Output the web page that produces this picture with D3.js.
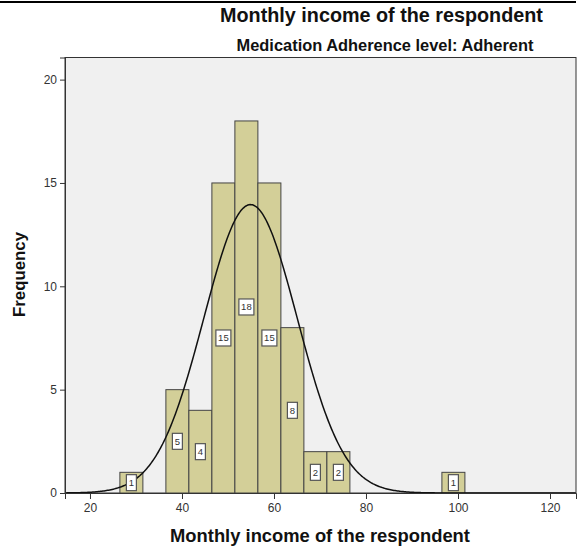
<!DOCTYPE html>
<html><head><meta charset="utf-8">
<script src="https://cdn.jsdelivr.net/npm/d3@7"></script>
<style>body{margin:0;background:#fff}svg{display:block}text{font-family:"Liberation Sans",Arial,sans-serif}</style>
</head><body>
<svg id="c" width="586" height="546"></svg>
<script>
const binStarts = [26.5, 36.5, 41.5, 46.5, 51.5, 56.5, 61.5, 66.5, 71.5, 96.5];
const binWidth = 5;
const counts = [1, 5, 4, 15, 18, 15, 8, 2, 2, 1];
const xTicks = [20, 40, 60, 80, 100, 120];
const yTicks = [0, 5, 10, 15, 20];
const fitMean = 54.9, fitSd = 10.15;
const title = "Monthly income of the respondent";
const subtitle = "Medication Adherence level: Adherent";
const xLabel = "Monthly income of the respondent";
const yLabel = "Frequency";

const svg = d3.select("#c");
const L = 65, R = 576, T = 57.5, B = 493;
const x = d3.scaleLinear().domain([14.57, 125.65]).range([L, R]);
const y = d3.scaleLinear().domain([0, 21.07]).range([B, T]);
const boldFont = "DejaVu Sans, Verdana, sans-serif";

function fitText(sel, target) {
  let fs = +sel.attr("font-size");
  const w = sel.node().getComputedTextLength();
  if (w > 0) sel.attr("font-size", (fs * target / w).toFixed(2));
}

svg.append("line").attr("x1", 0).attr("x2", 576).attr("y1", 2).attr("y2", 2).attr("stroke", "#000").attr("stroke-width", 2);

const t1 = svg.append("text").attr("x", 381.5).attr("y", 21.5).attr("text-anchor", "middle")
  .attr("font-family", boldFont).attr("font-size", 16).attr("font-weight", "bold").attr("fill", "#111").text(title);
fitText(t1, 323);
const t2 = svg.append("text").attr("x", 385).attr("y", 50.5).attr("text-anchor", "middle")
  .attr("font-family", boldFont).attr("font-size", 13).attr("font-weight", "bold").attr("fill", "#111").text(subtitle);
fitText(t2, 297);

svg.append("rect").attr("x", L).attr("y", T).attr("width", R - L).attr("height", B - T)
  .attr("fill", "#f0f0f0").attr("stroke", "#333").attr("stroke-width", 1);

const data = counts.map((c, i) => ({x0: binStarts[i], x1: binStarts[i] + binWidth, c}));

svg.append("g").selectAll("rect").data(data).join("rect")
  .attr("x", d => x(d.x0)).attr("y", d => y(d.c))
  .attr("width", d => x(d.x1) - x(d.x0)).attr("height", d => y(0) - y(d.c))
  .attr("fill", "#d3cf98").attr("stroke", "#444").attr("stroke-width", 1);

// normal curve
const N = d3.sum(counts);
const pts = d3.range(14.57, 125.65, 0.25).map(v => [v, N * binWidth / (fitSd * Math.sqrt(2 * Math.PI)) * Math.exp(-0.5 * ((v - fitMean) / fitSd) ** 2)]);
svg.append("defs").append("clipPath").attr("id", "cp").append("rect").attr("x", L).attr("y", T).attr("width", R - L).attr("height", B - T);
svg.append("path").attr("clip-path", "url(#cp)").datum(pts)
  .attr("d", d3.line().x(d => x(d[0])).y(d => y(d[1])))
  .attr("fill", "none").attr("stroke", "#111").attr("stroke-width", 1.5);

// value labels
const lg = svg.append("g").selectAll("g").data(data).join("g")
  .attr("transform", d => `translate(${x(d.x0 + binWidth / 2)},${y(d.c / 2)})`);
lg.append("rect").attr("x", d => d.c >= 10 ? -7.5 : -5).attr("y", -8)
  .attr("width", d => d.c >= 10 ? 15 : 10).attr("height", 16)
  .attr("fill", "#fff").attr("stroke", "#555").attr("stroke-width", 1.2);
lg.append("text").attr("text-anchor", "middle").attr("y", 3.5).attr("font-size", 9.5).attr("fill", "#333").text(d => d.c);

// axes
const xa = svg.append("g").attr("transform", `translate(0,${B})`)
  .call(d3.axisBottom(x).tickValues(xTicks).tickSize(6).tickPadding(4));
const ya = svg.append("g").attr("transform", `translate(${L},0)`)
  .call(d3.axisLeft(y).tickValues(yTicks).tickSize(5).tickPadding(3));
[xa, ya].forEach(a => {
  a.select(".domain").attr("stroke", "#333");
  a.selectAll(".tick line").attr("stroke", "#333");
  a.selectAll(".tick text").attr("font-size", 12).attr("fill", "#333").attr("font-family", "Liberation Sans, Arial, sans-serif");
});

const xl = svg.append("text").attr("x", 320).attr("y", 542).attr("text-anchor", "middle")
  .attr("font-family", boldFont).attr("font-size", 15).attr("font-weight", "bold").attr("fill", "#111").text(xLabel);
fitText(xl, 300);
const yl = svg.append("text").attr("transform", "translate(25,274.5) rotate(-90)").attr("text-anchor", "middle")
  .attr("font-family", boldFont).attr("font-size", 15).attr("font-weight", "bold").attr("fill", "#111").text(yLabel);
fitText(yl, 85);
</script>
</body></html>
